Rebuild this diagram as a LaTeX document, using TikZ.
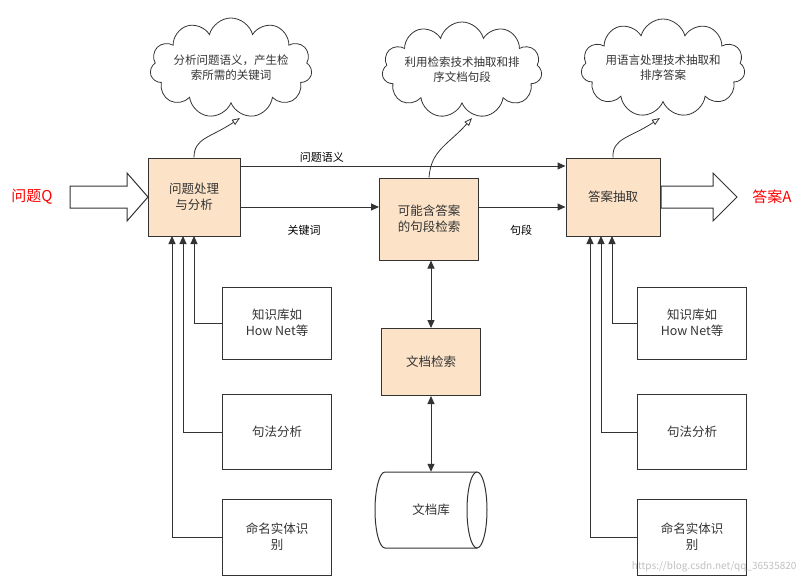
\documentclass[tikz,border=0pt]{standalone}
\usepackage{fontspec}
\setmainfont{Noto Sans CJK SC}
\usetikzlibrary{shapes.symbols,shapes.geometric,arrows.meta}
\definecolor{peach}{HTML}{FCE3C8}
\definecolor{ln}{HTML}{333333}
\begin{document}
\begin{tikzpicture}[x=1pt,y=-1pt,font=\fontsize{12.5}{16}\selectfont,
  main/.style={draw=ln,line width=1pt,fill=peach,align=center,inner sep=0pt,text=black!80},
  sub/.style={draw=ln,line width=1pt,align=center,inner sep=0pt,text=black!80,minimum width=109pt},
  cl/.style={cloud,cloud puffs=11,cloud ignores aspect,draw=ln,line width=0.8pt,inner sep=0pt},
  ct/.style={align=center,font=\fontsize{11.5}{15}\selectfont,text=black!80},
  arr/.style={draw=ln,line width=1pt,-{Triangle[length=8pt,width=7pt]}},
  darr/.style={draw=ln,line width=1pt,{Triangle[length=8pt,width=7pt]}-{Triangle[length=8pt,width=7pt]}},
  call/.style={draw=ln,line width=0.8pt,-{Triangle[open,length=8pt,width=6pt]}},
  big/.style={draw=ln,line width=1pt,fill=white}]
\useasboundingbox (0,0) rectangle (803,586);
\node[main,minimum width=92pt,minimum height=78pt] (a) at (194,197) {问题处理\\与分析};
\node[main,minimum width=99pt,minimum height=82pt] (b) at (429,219) {可能含答案\\的句段检索};
\node[main,minimum width=94pt,minimum height=78pt] (c) at (613,197) {答案抽取};
\node[main,minimum width=99pt,minimum height=67pt] (d) at (431,362) {文档检索};
\draw[draw=ln,line width=1pt] (477,472) -- (385,472) arc[start angle=90,end angle=270,x radius=10pt,y radius=38pt] -- (477,548);
\draw[draw=ln,line width=1pt] (477,510) ellipse[x radius=10pt,y radius=38pt];
\node[text=black!80,inner sep=0pt,minimum width=112pt,minimum height=76pt] (e) at (431,510) {文档库};
\node[sub,minimum height=72pt] (l1) at (277,323) {知识库如\\How Net等};
\node[sub,minimum height=75pt] (l2) at (277,432) {句法分析};
\node[sub,minimum height=76pt] (l3) at (277,537) {命名实体识\\别};
\node[sub,minimum height=72pt] (r1) at (692,323) {知识库如\\How Net等};
\node[sub,minimum height=75pt] (r2) at (692,432) {句法分析};
\node[sub,minimum height=76pt] (r3) at (692,537) {命名实体识\\别};
\node[cl,minimum width=162pt,minimum height=100pt] (k1) at (231,68) {};
\node[ct] (t1) at (k1) {分析问题语义，产生检\\索所需的关键词};
\node[cl,minimum width=160pt,minimum height=96pt] (k2) at (462,70) {};
\node[ct] (t2) at (k2) {利用检索技术抽取和排\\序文档句段};
\node[cl,minimum width=164pt,minimum height=98pt] (k3) at (663,68) {};
\node[ct] (t3) at (k3) {用语言处理技术抽取和\\排序答案};
\node[text=red,font=\fontsize{15}{17}\selectfont] (q) at (32,197) {问题Q};
\node[text=red,font=\fontsize{15}{17}\selectfont] (ans) at (772,197) {答案A};
% big hollow arrows
\draw[big] (70,186) -- (127,186) -- (127,173) -- (148,197) -- (127,221) -- (127,208) -- (70,208) -- cycle;
\draw[big] (661,186) -- (713,186) -- (713,173) -- (737,197) -- (713,221) -- (713,208) -- (661,208) -- cycle;
% flows
\draw[arr] (a.east|-0,166) -- node[above,pos=0.25,font=\fontsize{11}{13}\selectfont]{问题语义} (c.west|-0,166);
\draw[arr] (a.east|-0,207) -- (b.west|-0,207);
\node[font=\fontsize{11}{13}\selectfont] (kw) at (304,230) {关键词};
\draw[arr] (b.east|-0,207) -- (c.west|-0,207);
\node[font=\fontsize{11}{13}\selectfont] (jd) at (521,230) {句段};
\draw[darr] (b.south-|431,0) -- (d.north);
\draw[darr] (d.south) -- (e.north);
% callouts
\draw[call] (a.north) .. controls (194,138) and (210,138) .. (240,118);
\draw[call] (b.north) .. controls (431,150) and (448,145) .. (472,118);
\draw[call] (c.north) .. controls (612,138) and (630,138) .. (660,118);
% side inputs
\draw[arr] (l1.west) -| (194,236);
\draw[arr] (l2.west) -| (183,236);
\draw[arr] (l3.west) -| (172,236);
\draw[arr] (r1.west) -| (612,236);
\draw[arr] (r2.west) -| (601,236);
\draw[arr] (r3.west) -| (590,236);
\node[text=black!25,font=\fontsize{10}{12}\selectfont,anchor=east] (wm) at (800,567) {https://blog.csdn.net/qq\_36535820};
\end{tikzpicture}
\end{document}
